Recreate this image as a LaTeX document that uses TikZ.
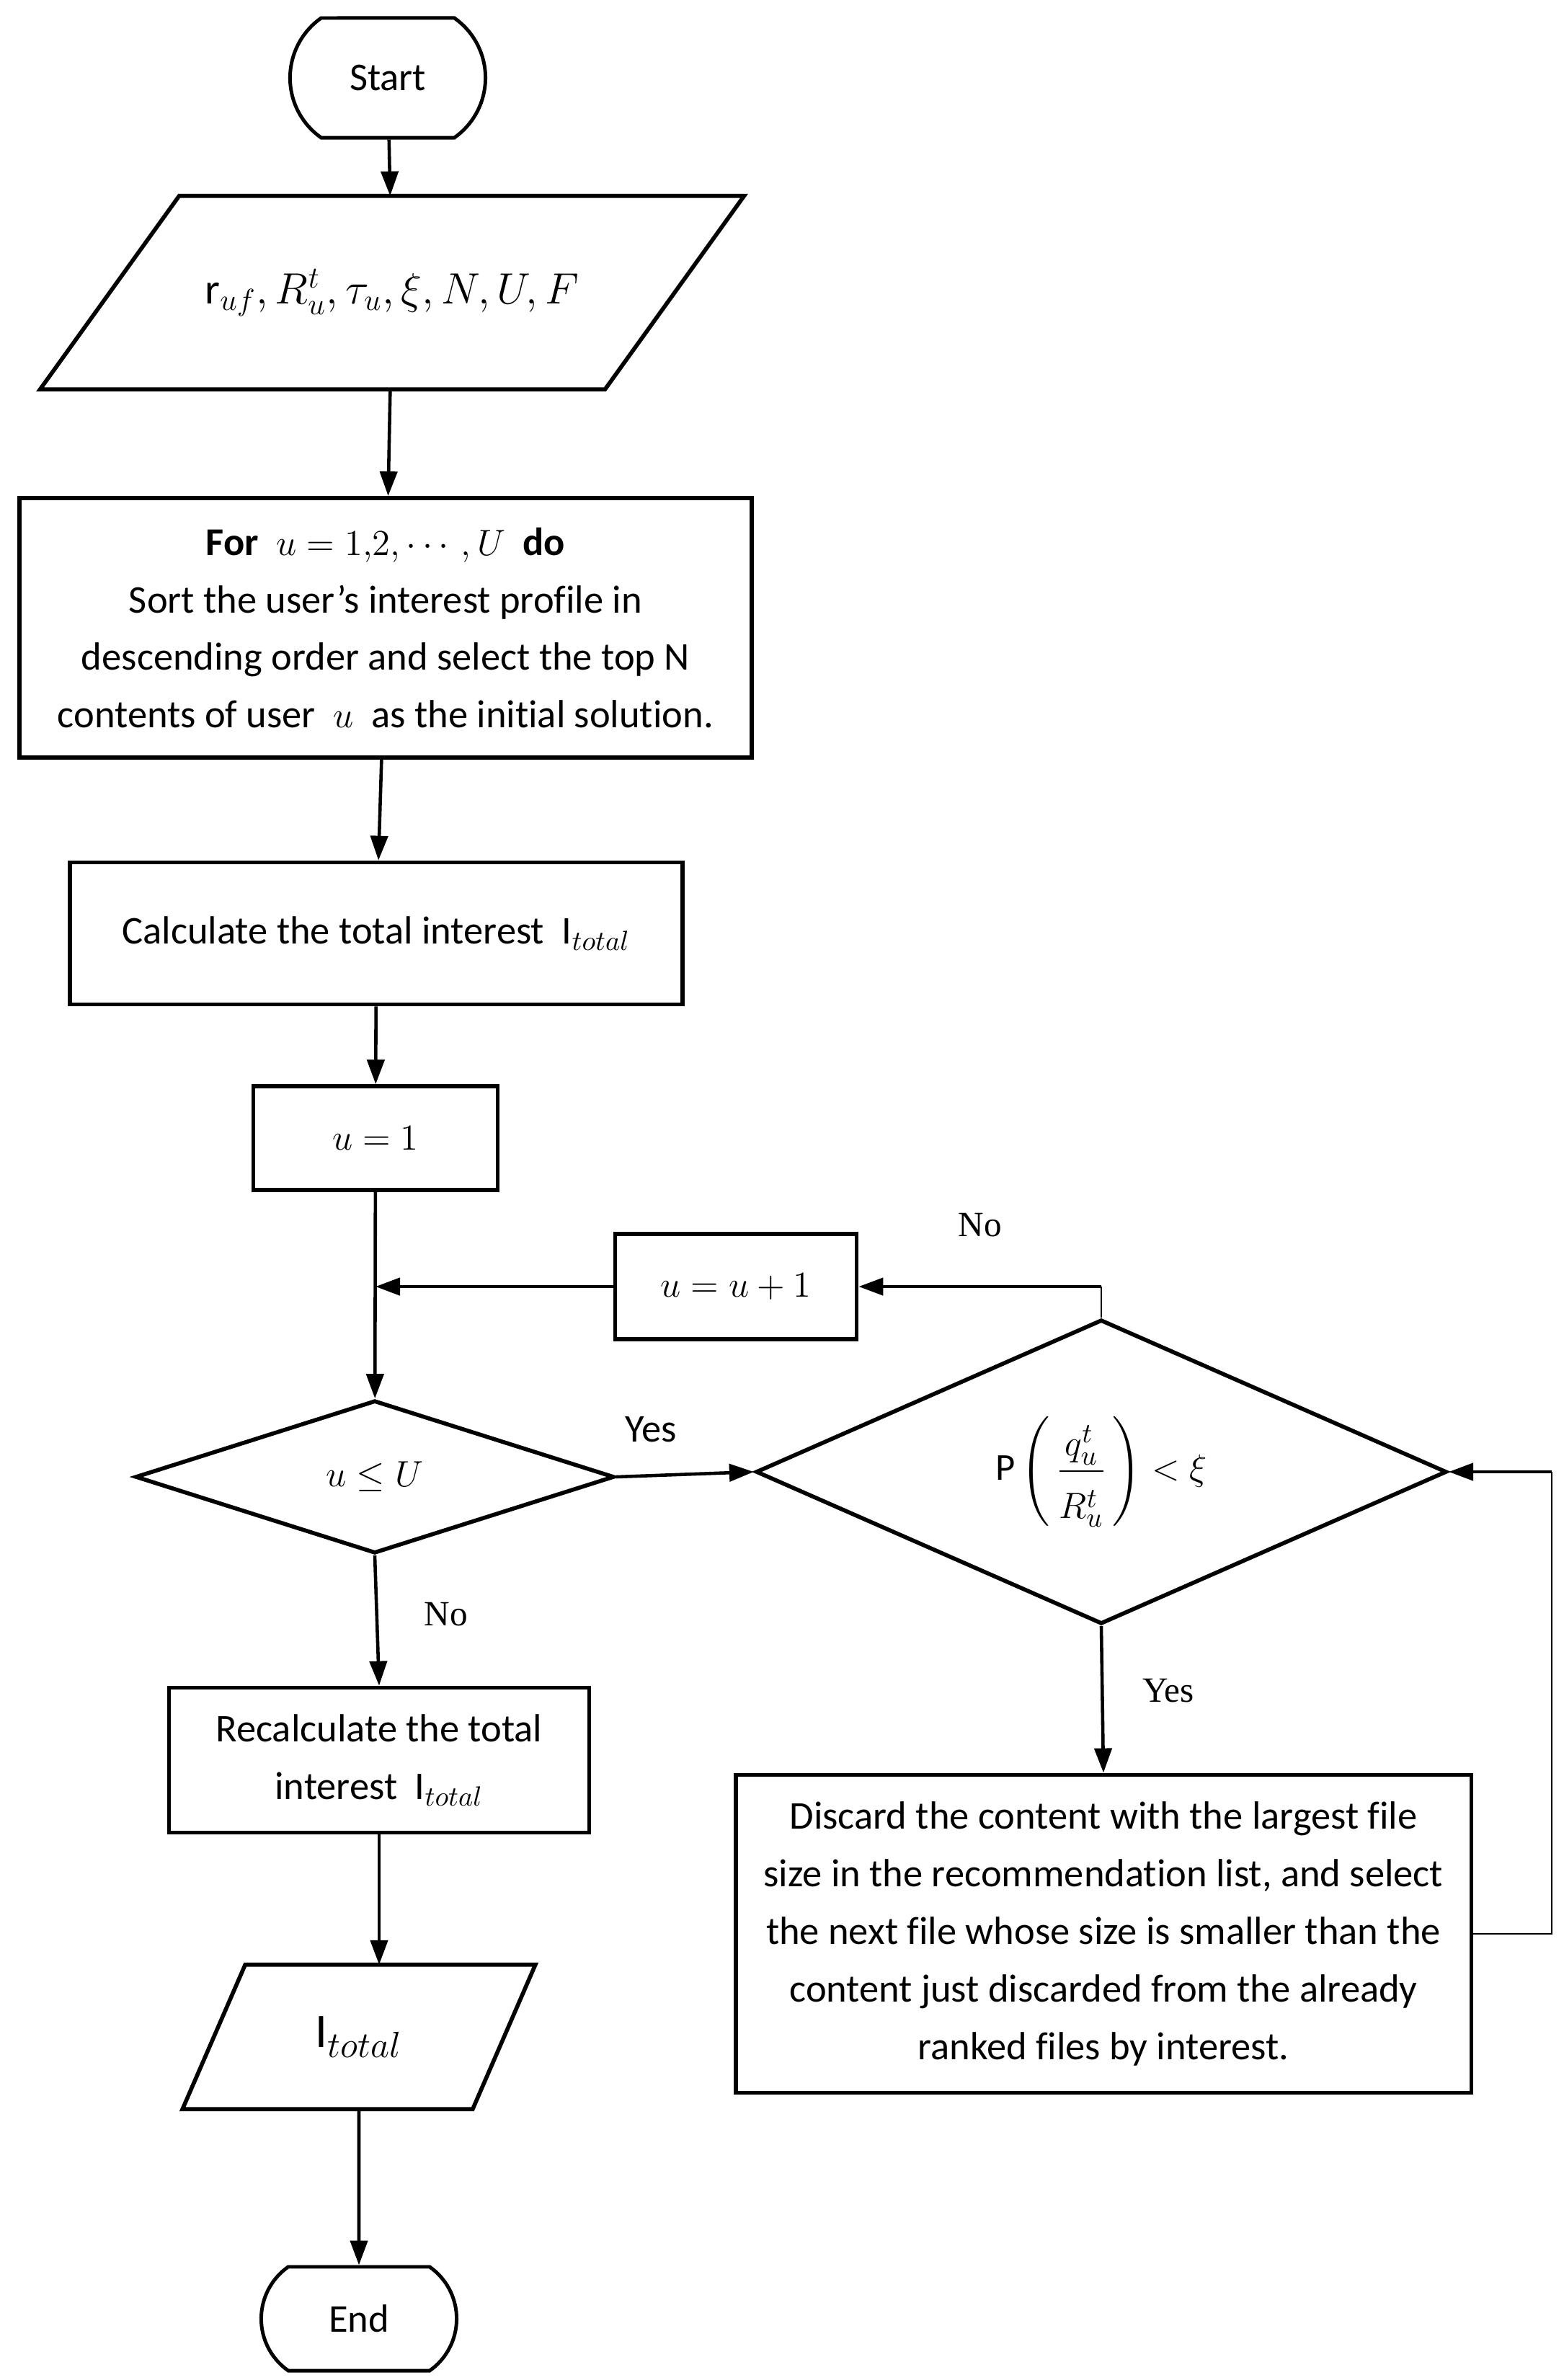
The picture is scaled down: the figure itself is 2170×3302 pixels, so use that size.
\documentclass[tikz,border=0pt]{standalone}
\usepackage{amsmath}
\usepackage{fontspec}
\setmainfont[Ligatures=NoCommon]{Carlito}
\newfontfamily\labelfont{Liberation Serif}
\usetikzlibrary{shapes.geometric, shapes.misc, arrows.meta}

\begin{document}
\begin{tikzpicture}[x=0.01cm, y=-0.01cm,
    every node/.style={align=center, font=\fontsize{15.5}{22.7}\selectfont},
    terminal/.style={draw, rounded rectangle, rounded rectangle arc length=110, line width=1.4pt, minimum width=2.71cm, inner sep=0pt},
    iobox/.style={rectangle, inner sep=0pt},
    slantline/.style={line width=1.6pt, line join=miter},
    procbox/.style={draw, rectangle, line width=1.6pt, inner sep=0pt},
    decision/.style={draw, diamond, line width=1.6pt, inner sep=0pt},
    flow/.style={-{Triangle[length=0.34cm, width=0.24cm]}, line width=1.3pt},
    thinline/.style={line width=0.7pt},
    lbl/.style={font=\labelfont\fontsize{14}{16}\selectfont}]
    \useasboundingbox (0,0) rectangle (2170,3302);
    % main column
    \node[terminal, minimum height=1.66cm] (start) at (538,108) {Start};
    \node[iobox, minimum width=7.82cm, minimum height=2.67cm, font=\fontsize{17}{20}\selectfont] (input) at (544,406) {$\mathrm{r}_{uf}, R_u^t, \tau_u, \xi, N, U, F$};
    \draw[slantline] ([xshift=0.965cm]input.north west) -- ([xshift=0.965cm]input.north east)
        -- ([xshift=-0.965cm]input.south east) -- ([xshift=-0.965cm]input.south west) -- cycle;
    \node[procbox, minimum width=10.15cm, minimum height=3.60cm] (forloop) at (535,871) {\textbf{For} \ $u=1{,}2,\cdots,U$ \ \textbf{do}\\
        Sort the user's interest profile in\\
        descending order and select the top N\\
        contents of user \ $u$ \ as the initial solution.};
    \node[procbox, minimum width=8.50cm, minimum height=1.97cm] (calc) at (522,1295) {Calculate the total interest \ $\mathrm{I}_{total}$};
    \node[procbox, minimum width=3.39cm, minimum height=1.44cm] (uinit) at (521,1579) {$u=1$};
    \node[decision, aspect=3.13, minimum width=6.64cm, minimum height=2.12cm] (check) at (520,2049) {$u\leq U$};
    \node[procbox, minimum width=5.83cm, minimum height=2.01cm] (recalc) at (526,2442) {Recalculate the total\\ interest \ $\mathrm{I}_{total}$};
    \node[iobox, minimum width=4.01cm, minimum height=1.99cm, font=\fontsize{19}{22}\selectfont] (output) at (498,2826) {$\mathrm{I}_{total}$};
    \draw[slantline] ([xshift=0.435cm]output.north west) -- ([xshift=0.435cm]output.north east)
        -- ([xshift=-0.435cm]output.south east) -- ([xshift=-0.435cm]output.south west) -- cycle;
    \node[terminal, minimum height=1.44cm] (finish) at (498,3217) {End};
    % right branch
    \node[procbox, minimum width=3.35cm, minimum height=1.46cm] (uplus) at (1021,1785) {$u=u+1$};
    \node[decision, aspect=2.27, minimum width=9.58cm, minimum height=4.22cm, font=\fontsize{15}{20}\selectfont] (prob) at (1528,2042) {$\mathrm{P}\left(\,\dfrac{q_u^t}{\rule{0pt}{2.3ex}R_u^t}\,\right)<\xi$};
    \node[procbox, minimum width=10.20cm, minimum height=4.41cm] (discard) at (1531,2683) {Discard the content with the largest file\\
        size in the recommendation list, and select\\
        the next file whose size is smaller than the\\
        content just discarded from the already\\
        ranked files by interest.};
    % labels
    \node (yesright) at (903,1983) {Yes};
    \node[lbl] (noup) at (1360,1700) {No};
    \node[lbl] (nodown) at (619,2240) {No};
    \node[lbl] (yesdown) at (1621,2346) {Yes};
    % connectors
    \coordinate (join) at (uinit.south |- uplus.west);
    \coordinate (noturn) at (prob.north |- uplus.east);
    \coordinate (backhigh) at (2153,2042);
    \coordinate (backlow) at (discard.east -| backhigh);
    \coordinate (outtop) at (recalc.south |- output.north);
    \draw[flow] (start) -- (input);
    \draw[flow] (input) -- (forloop);
    \draw[flow] (forloop) -- (calc);
    \draw[flow] (calc) -- (uinit);
    \draw[flow] (uinit) -- (check);
    \draw[flow] (uplus.west) -- (join);
    \draw[flow] (check.east) -- (prob.west);
    \draw[thinline] (prob.north) -- (noturn);
    \draw[flow] (noturn) -- (uplus.east);
    \draw[flow] (prob.south) -- (discard.north);
    \draw[thinline] (discard.east) -- (backlow) -- (backhigh);
    \draw[flow] (backhigh) -- (prob.east);
    \draw[flow] (check.south) -- (recalc.north);
    \draw[flow] (recalc.south) -- (outtop);
    \draw[flow] (output) -- (finish);
\end{tikzpicture}
\end{document}
